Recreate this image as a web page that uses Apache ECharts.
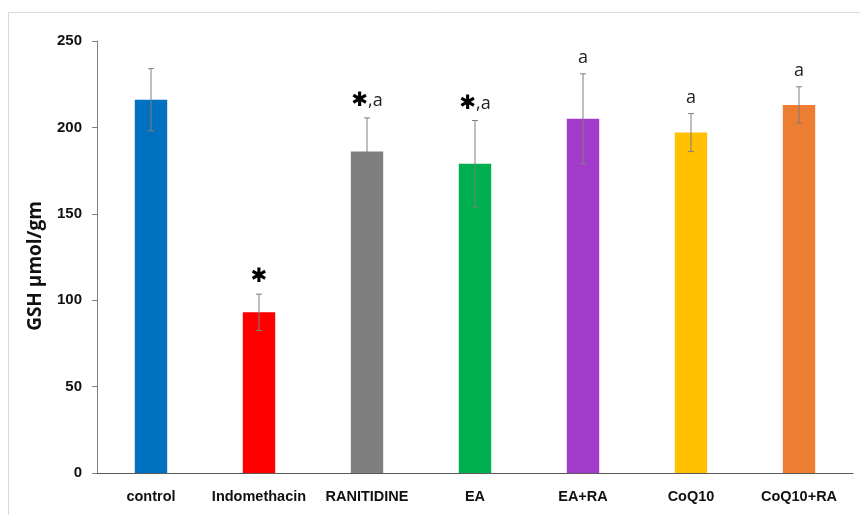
<!DOCTYPE html>
<html><head><meta charset="utf-8">
<script src="https://cdn.jsdelivr.net/npm/echarts@6/dist/echarts.min.js"></script>
<style>html,body{margin:0;padding:0;background:#fff}#c{width:860px;height:515px}</style>
</head><body><div id="c"></div>
<script>
var categories = ["control","Indomethacin","RANITIDINE","EA","EA+RA","CoQ10","CoQ10+RA"];
var values = [216, 93, 186, 179, 205, 197, 213];
var errors = [18, 10.5, 19.5, 25, 26, 11, 10.5];
var colors = ["#0070C0","#FF0000","#7F7F7F","#00B050","#A43CCB","#FFC000","#ED7D31"];
var annotations = ["", "*", "*,a", "*,a", "a", "a", "a"];
var yTicks = [0, 50, 100, 150, 200, 250];

var chart = echarts.init(document.getElementById('c'), null, {renderer:'canvas'});
var font = '"Liberation Sans", Arial, sans-serif';

function annoLabel(s){
  if(!s) return '';
  var parts = s.split(',');
  if(parts[0]==='*') {
    return parts.length>1 ? '{ast|\u2731}{txt|,' + parts.slice(1).join(',') + '}' : '{ast|\u2731}';
  }
  return '{txt|' + s + '}';
}

chart.setOption({
  animation:false,
  graphic:[{type:'rect', silent:true, shape:{x:8.5, y:12.5, width:870, height:520}, style:{fill:'none', stroke:'#d9d9d9', lineWidth:1}}],
  grid:{left:97, right:7, top:41, bottom:42},
  xAxis:{type:'category', data:categories,
    axisLine:{lineStyle:{color:'#595959', width:1.2}}, axisTick:{show:false},
    axisLabel:{interval:0, color:'#111', fontWeight:'bold', fontSize:14.5, fontFamily:font, margin:16}},
  yAxis:{type:'value', min:0, max:250, interval:50,
    name:'GSH \u00b5mol/gm', nameLocation:'middle', nameGap:52,
    nameTextStyle:{color:'#111', fontWeight:'bold', fontSize:19, fontFamily:'"Open Sans", sans-serif', padding:[0,18,0,0]},
    axisLine:{show:true, lineStyle:{color:'#7f7f7f', width:1}},
    axisTick:{show:true, length:5, lineStyle:{color:'#7f7f7f'}},
    splitLine:{show:false},
    axisLabel:{color:'#111', fontWeight:'bold', fontSize:15, fontFamily:font, margin:15,
      formatter:function(v){return yTicks.indexOf(v)>=0 ? String(v) : '';}}},
  series:[
    {type:'bar', barWidth:'30%', data:values.map(function(v,i){return {value:v, itemStyle:{color:colors[i]}};})},
    {type:'custom', z:5,
      data:values.map(function(v,i){return [i, v, errors[i]];}),
      renderItem:function(params, api){
        var x = api.value(0), v = api.value(1), e = api.value(2);
        var pTop = api.coord([x, v+e]), pBot = api.coord([x, v-e]);
        var hw = 3;
        var st = {stroke:'#7f7f7f', lineWidth:1};
        var lab = annoLabel(annotations[params.dataIndex]);
        var children = [
          {type:'line', shape:{x1:pTop[0], y1:pTop[1], x2:pBot[0], y2:pBot[1]}, style:st},
          {type:'line', shape:{x1:pTop[0]-hw, y1:pTop[1], x2:pTop[0]+hw, y2:pTop[1]}, style:st},
          {type:'line', shape:{x1:pBot[0]-hw, y1:pBot[1], x2:pBot[0]+hw, y2:pBot[1]}, style:st}
        ];
        if(lab){
          children.push({type:'text', x:pTop[0], y:pTop[1]-7,
            style:{text:lab, align:'center', verticalAlign:'bottom',
              rich:{ast:{fontSize:20, fontWeight:'bold', fill:'#000', fontFamily:'"DejaVu Sans", sans-serif'},
                    txt:{fontSize:18, fill:'#222', fontFamily:'"Open Sans", sans-serif'}}}});
        }
        return {type:'group', children:children};
      }}
  ]
});
</script></body></html>
